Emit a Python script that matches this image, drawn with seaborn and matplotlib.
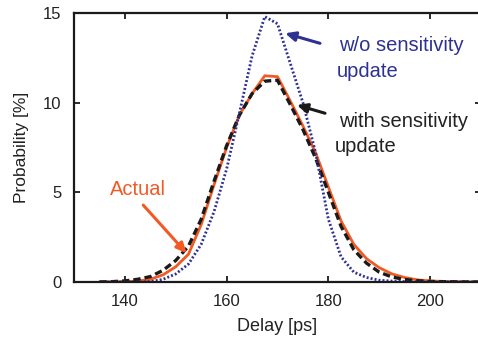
import pandas as pd
import matplotlib
matplotlib.use("Agg")
import matplotlib.pyplot as plt
import seaborn as sns

# Delay axis (ps), sampled every 2.5 ps
delay = [135, 137.5, 140, 142.5, 145, 147.5, 150, 152.5, 155, 157.5,
         160, 162.5, 165, 167.5, 170, 172.5, 175, 177.5, 180, 182.5,
         185, 187.5, 190, 192.5, 195, 197.5, 200, 202.5, 205, 207.5, 210]

# Probability [%] for each distribution
actual = [0.0, 0.01, 0.02, 0.05, 0.15, 0.4, 0.85, 1.55, 3.2, 5.4,
          7.5, 9.3, 10.5, 11.5, 11.45, 10.1, 8.7, 7.2, 5.3, 3.4,
          2.1, 1.3, 0.8, 0.45, 0.25, 0.12, 0.06, 0.03, 0.02, 0.01, 0.0]
with_update = [0.0, 0.02, 0.06, 0.15, 0.3, 0.65, 1.2, 2.0, 3.5, 5.6,
               7.6, 9.3, 10.5, 11.2, 11.25, 9.9, 8.5, 6.9, 5.0, 3.1,
               1.8, 1.05, 0.55, 0.28, 0.14, 0.07, 0.03, 0.02, 0.01, 0.0, 0.0]
without_update = [0.0, 0.0, 0.0, 0.0, 0.02, 0.15, 0.45, 1.0, 2.1, 3.9,
                  6.3, 9.4, 12.6, 14.8, 14.4, 12.2, 10.0, 7.2, 3.5, 1.4,
                  0.55, 0.25, 0.1, 0.05, 0.02, 0.0, 0.0, 0.0, 0.0, 0.0, 0.0]

x_ticks = [140, 160, 180, 200]
y_ticks = [0, 5, 10, 15]

ORANGE = "#f15a24"
BLUE = "#2e3192"
BLACK = "#1a1a1a"

sns.set_style("white")
plt.rcParams["font.family"] = ["Liberation Sans", "DejaVu Sans"]

fig = plt.figure(figsize=(4.78, 3.44), dpi=100)
ax = fig.add_axes([74 / 478, 1 - 282 / 344, (481 - 74) / 478, (282 - 13) / 344])

df = pd.DataFrame({"delay": delay, "actual": actual,
                   "with": with_update, "without": without_update})

sns.lineplot(data=df, x="delay", y="actual", ax=ax, color=ORANGE,
             linewidth=2.0)
sns.lineplot(data=df, x="delay", y="with", ax=ax, color=BLACK,
             linewidth=2.4, linestyle=(0, (2.2, 1.2)))
sns.lineplot(data=df, x="delay", y="without", ax=ax, color=BLUE,
             linewidth=2.0, linestyle=(0, (0.7, 0.75)))

ax.set_xlim(130, 210)
ax.set_ylim(0, 15)
ax.set_xticks(x_ticks)
ax.set_yticks(y_ticks)
ax.set_xlabel("Delay [ps]", fontsize=13, color="#222222", labelpad=6)
ax.set_ylabel("Probability [%]", fontsize=12.5, color="#222222", labelpad=10)

for s in ax.spines.values():
    s.set_visible(True)
    s.set_linewidth(1.6)
    s.set_color("#1a1a1a")

ax.tick_params(direction="in", length=4, width=1.3, color="#1a1a1a",
               labelsize=12, labelcolor="#222222", top=True, right=True,
               bottom=True, left=True)
ax.tick_params(axis="x", pad=9)
ax.tick_params(axis="y", pad=9)

# Callout arrows pointing at each curve
arrow = dict(arrowstyle="-|>,head_length=0.6,head_width=0.28",
             lw=2.2, shrinkA=0, shrinkB=0)
ax.annotate("", xy=(171.5, 13.87), xytext=(178.35, 13.31),
            arrowprops=dict(arrow, color=BLUE))
ax.annotate("", xy=(173.8, 9.87), xytext=(179.34, 9.41),
            arrowprops=dict(arrow, color=BLACK))
ax.annotate("", xy=(152.15, 1.6), xytext=(143.6, 4.29),
            arrowprops=dict(arrow, color=ORANGE))

# Callout labels
fs = 14.5
ax.text(182.15, 12.9, "w/o sensitivity", color=BLUE, fontsize=fs,
        ha="left", va="baseline")
ax.text(181.6, 11.45, "update", color=BLUE, fontsize=fs,
        ha="left", va="baseline")
ax.text(182.15, 8.66, "with sensitivity", color="#222222", fontsize=fs,
        ha="left", va="baseline")
ax.text(181.3, 7.27, "update", color="#222222", fontsize=fs,
        ha="left", va="baseline")
ax.text(137.1, 4.85, "Actual", color=ORANGE, fontsize=fs,
        ha="left", va="baseline")

fig.savefig("out.png", dpi=100)
